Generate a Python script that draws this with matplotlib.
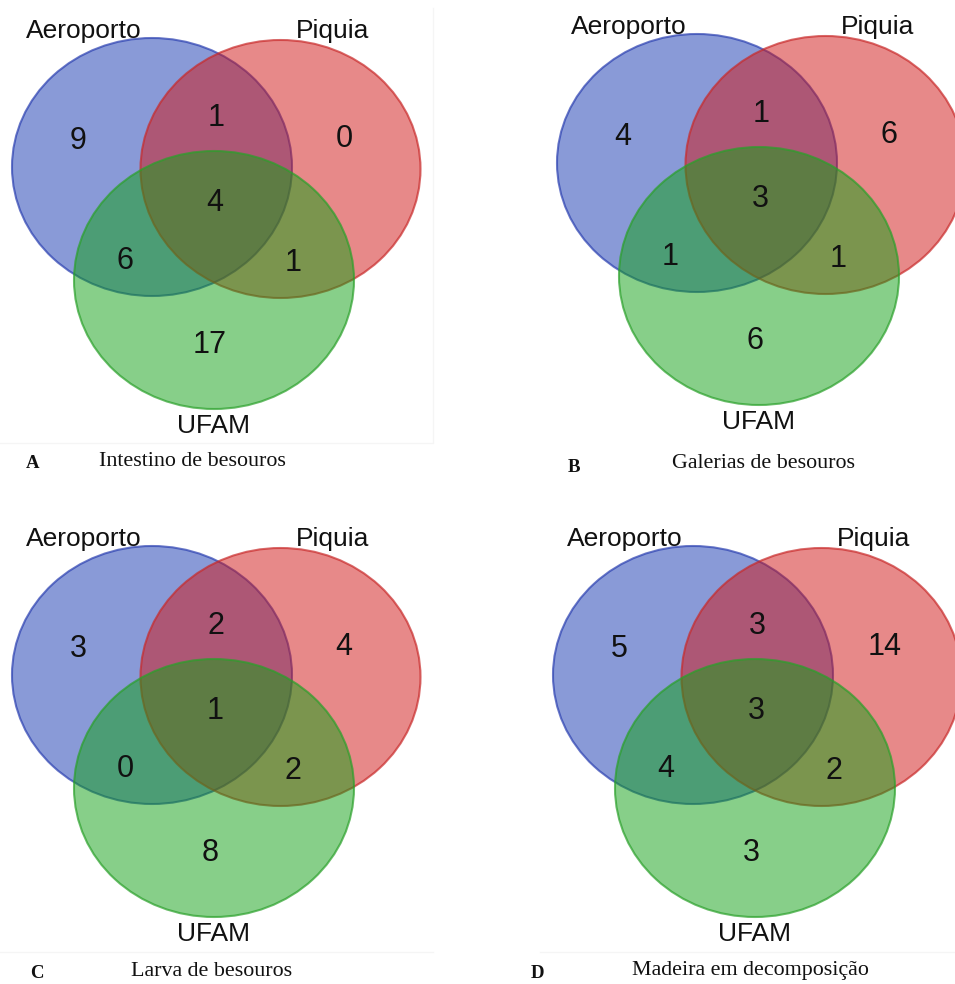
import matplotlib
matplotlib.use("Agg")
import matplotlib.pyplot as plt
from matplotlib.patches import Ellipse
from matplotlib.colors import to_rgba

# Set names and the seven region counts of each three-set Venn diagram.
# Region order: Aeroporto only, Aeroporto∩Piquia, Piquia only,
#               all three, Aeroporto∩UFAM, Piquia∩UFAM, UFAM only
set_names = ["Aeroporto", "Piquia", "UFAM"]
counts_A = [9, 1, 0, 4, 6, 1, 17]
counts_B = [4, 1, 6, 3, 1, 1, 6]
counts_C = [3, 2, 4, 1, 0, 2, 8]
counts_D = [5, 3, 14, 3, 4, 2, 3]
panel_letters = ["A", "B", "C", "D"]
panel_titles = ["Intestino de besouros", "Galerias de besouros",
                "Larva de besouros", "Madeira em decomposição"]

panel_counts = [counts_A, counts_B, counts_C, counts_D]

# ---- layout (figure pixels, y downward) ----
W, H = 955, 984
anchors = [(152, 167), (697, 163), (152, 675), (693, 675)]   # centre of first set
circle_offsets = [(0, 0), (128.5, 2), (62, 113)]
circle_w, circle_h = 280, 258
fill_colors = ["#1537b1", "#d11515", "#11a115"]
edge_colors = ["#2a3fb0", "#c82a2a", "#2aa02a"]
region_offsets = [(-74, -26), (64, -49), (192, -28), (63, 36),
                  (-27, 94), (141, 96), (58, 178)]
label_offsets = [(-68, -136), (181, -136), (61, 259)]
letter_pos = [(33, 464), (574, 467), (37, 974), (537, 974)]
title_pos = [(192, 461), (763, 463), (212, 971), (750, 971)]

fig = plt.figure(figsize=(W / 100, H / 100), dpi=100)
ax = fig.add_axes([0, 0, 1, 1])
ax.set_xlim(0, W)
ax.set_ylim(H, 0)
ax.axis("off")

sans = "Liberation Sans"
serif = "Liberation Serif"

# faint frame edges around the panels
ax.plot([433, 433, 0], [8, 443, 443], color="#f5f5f5", lw=1, zorder=0)
ax.plot([0, 433], [952, 952], color="#f5f5f5", lw=1, zorder=0)
ax.plot([540, 955], [952, 952], color="#f5f5f5", lw=1, zorder=0)

for (ax0, ay0), counts, letter, title, lp, tp in zip(
        anchors, panel_counts, panel_letters, panel_titles, letter_pos, title_pos):
    for (dx, dy), fc, ec in zip(circle_offsets, fill_colors, edge_colors):
        ax.add_patch(Ellipse((ax0 + dx, ay0 + dy), circle_w, circle_h,
                             facecolor=to_rgba(fc, 0.5),
                             edgecolor=to_rgba(ec, 0.7), lw=1.5, zorder=1))
    for (dx, dy), val in zip(region_offsets, counts):
        ax.text(ax0 + dx, ay0 + dy, str(val), fontsize=22, family=sans,
                ha="center", va="center", color="#111111", zorder=3)
    for (dx, dy), name in zip(label_offsets, set_names):
        ax.text(ax0 + dx, ay0 + dy, name, fontsize=19, family=sans,
                ha="center", va="center", color="#111111", zorder=3)
    ax.text(lp[0], lp[1], letter, fontsize=13.5, family=serif, weight="bold",
            ha="center", va="center", color="#111111")
    ax.text(tp[0], tp[1], title, fontsize=15.8, family=serif,
            ha="center", va="center", color="#111111")

fig.savefig("out.png", dpi=100)
